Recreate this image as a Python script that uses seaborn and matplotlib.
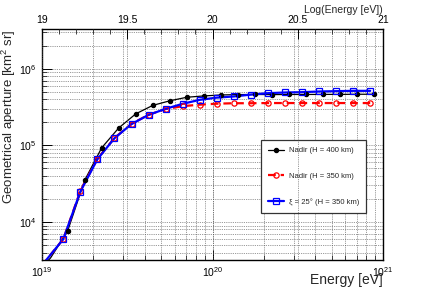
import numpy as np
import pandas as pd
import matplotlib
matplotlib.use("Agg")
import matplotlib.pyplot as plt
import seaborn as sns
from matplotlib.lines import Line2D
from matplotlib.ticker import LogLocator, LogFormatterMathtext, NullFormatter, MultipleLocator

# ---------------- data ----------------
# Nadir, H = 400 km (black filled circles), log10(E/eV)
black_logE = [19.15, 19.25, 19.35, 19.45, 19.55, 19.65, 19.75, 19.85, 19.95,
              20.05, 20.15, 20.25, 20.35, 20.45, 20.55, 20.65, 20.75, 20.85, 20.95]
black_aper = [7.6e3, 3.5e4, 9.3e4, 1.69e5, 2.58e5, 3.33e5, 3.82e5, 4.25e5, 4.42e5,
              4.55e5, 4.6e5, 4.62e5, 4.6e5, 4.62e5, 4.62e5, 4.63e5, 4.63e5, 4.65e5, 4.65e5]
# Nadir, H = 350 km (red open circles)
red_logE = [19.125, 19.225, 19.325, 19.425, 19.525, 19.625, 19.725, 19.825, 19.925,
            20.025, 20.125, 20.225, 20.325, 20.425, 20.525, 20.625, 20.725, 20.825, 20.925]
red_aper = [6.0e3, 2.55e4, 6.7e4, 1.25e5, 1.91e5, 2.51e5, 2.98e5, 3.25e5, 3.4e5,
            3.5e5, 3.55e5, 3.55e5, 3.57e5, 3.57e5, 3.57e5, 3.57e5, 3.57e5, 3.57e5, 3.57e5]
# xi = 25 deg, H = 350 km (blue open squares)
blue_logE = red_logE
blue_aper = [6.0e3, 2.5e4, 6.6e4, 1.24e5, 1.9e5, 2.5e5, 3.0e5, 3.49e5, 3.93e5,
             4.2e5, 4.35e5, 4.6e5, 4.8e5, 4.9e5, 4.95e5, 5.05e5, 5.1e5, 5.15e5, 5.15e5]
# start of the curves below the first markers (line only)
black_tail_logE = [19.0, 19.05]
black_tail_aper = [2.6e3, 3.4e3]
red_tail_logE = [19.0, 19.03]
red_tail_aper = [2.7e3, 3.3e3]
blue_tail_logE = red_tail_logE
blue_tail_aper = [2.7e3, 3.3e3]

labels = ["Nadir (H = 400 km)", "Nadir (H = 350 km)", "\u03be = 25\u00b0 (H = 350 km)"]
top_ticks = [19, 19.5, 20, 20.5, 21]

# ---------------- style ----------------
sns.set_theme(style="white")
plt.rcParams["font.family"] = ["Liberation Sans", "DejaVu Sans"]
plt.rcParams["mathtext.fontset"] = "custom"
plt.rcParams["mathtext.rm"] = "Liberation Sans"
plt.rcParams["mathtext.it"] = "Liberation Sans:italic"

fig = plt.figure(figsize=(4.26, 2.89), dpi=100)
ax = fig.add_axes([42/426, 29/289, 341/426, 231/289])
ax.set_facecolor("white")

def frame(logE, aper):
    return pd.DataFrame({"E": 10.0 ** np.asarray(logE), "A": aper})

series = [
    (black_tail_logE + black_logE, black_tail_aper + black_aper, black_logE, black_aper,
     "black", "-", 0.9, "o", "black", 3.0),
    (red_tail_logE + red_logE, red_tail_aper + red_aper, red_logE, red_aper,
     "#ff0000", (0, (3.5, 2.2)), 1.6, "o", "none", 3.8),
    (blue_tail_logE + blue_logE, blue_tail_aper + blue_aper, blue_logE, blue_aper,
     "#0000ff", "-", 1.6, "s", "none", 3.8),
]

handles = []
for (lx, ly, mx, my, col, ls, lw, mk, mfc, ms) in series:
    sns.lineplot(data=frame(lx, ly), x="E", y="A", ax=ax, color=col, linestyle=ls,
                 linewidth=lw, estimator=None, sort=False, legend=False, zorder=3)
    ax.plot(10.0 ** np.asarray(mx), my, linestyle="none", marker=mk, markersize=ms,
            markerfacecolor=(col if mfc != "none" else "none"), markeredgecolor=col,
            markeredgewidth=0.9, zorder=4)
    handles.append(Line2D([], [], color=col, linestyle=ls, linewidth=lw, marker=mk,
                          markersize=ms, markerfacecolor=(col if mfc != "none" else "none"),
                          markeredgecolor=col, markeredgewidth=0.9))

ax.set_xscale("log")
ax.set_yscale("log")
ax.set_xlim(1e19, 1e21)
ax.set_ylim(3.2e3, 3.3e6)

ax.xaxis.set_major_locator(LogLocator(base=10, numticks=10))
ax.xaxis.set_minor_locator(LogLocator(base=10, subs=np.arange(2, 10), numticks=30))
ax.yaxis.set_major_locator(LogLocator(base=10, numticks=10))
ax.yaxis.set_minor_locator(LogLocator(base=10, subs=np.arange(2, 10), numticks=30))
ax.xaxis.set_major_formatter(LogFormatterMathtext())
ax.yaxis.set_major_formatter(LogFormatterMathtext())
ax.xaxis.set_minor_formatter(NullFormatter())
ax.yaxis.set_minor_formatter(NullFormatter())

ax.grid(True, which="both", color="#555555", linestyle=(0, (1, 1.2)), linewidth=0.6, alpha=0.8)
ax.tick_params(axis="both", which="major", direction="in", length=7, width=0.7,
               labelsize=7.5, colors="black", pad=4, top=False, right=False,
               left=True, bottom=True)
ax.tick_params(axis="both", which="minor", direction="in", length=3.5, width=0.6,
               top=False, right=False, left=True, bottom=True)
for s in ax.spines.values():
    s.set_color("black")
    s.set_linewidth(1.0)

ax.set_xlabel("Energy [eV]", loc="right", fontsize=10)
ax.xaxis.set_label_coords(1.0, -0.055)
ax.set_ylabel("Geometrical aperture [km$^{2}$ sr]", loc="top", fontsize=9.5)
ax.yaxis.set_label_coords(-0.07, 1.0)

# top axis in log10(E)
ax2 = ax.twiny()
ax2.set_xlim(19, 21)
ax2.set_xticks(top_ticks)
ax2.set_xticklabels([f"{t:g}" for t in top_ticks])
ax2.xaxis.set_minor_locator(MultipleLocator(0.1))
ax2.tick_params(axis="x", which="major", direction="in", length=7, width=0.7,
                labelsize=7.5, pad=3, colors="black")
ax2.tick_params(axis="x", which="minor", direction="in", length=3.5, width=0.6)
ax2.grid(True, which="major", axis="x", color="#555555", linestyle=(0, (1, 1.2)),
         linewidth=0.6, alpha=0.8)
ax2.set_xlabel("Log(Energy [eV])", loc="right", fontsize=7.5, labelpad=1)
for s in ax2.spines.values():
    s.set_visible(False)

leg = ax.legend(handles, labels, loc="upper left", bbox_to_anchor=(219/341, 1 - 111/231),
                frameon=True, fontsize=5.5, fancybox=False, edgecolor="#333333",
                framealpha=1, borderpad=0.9, labelspacing=2.4, handlelength=2.1,
                handletextpad=0.65, borderaxespad=0)
leg.get_frame().set_linewidth(0.9)
leg.set_zorder(10)

fig.savefig("out.png", dpi=100, facecolor="white")
